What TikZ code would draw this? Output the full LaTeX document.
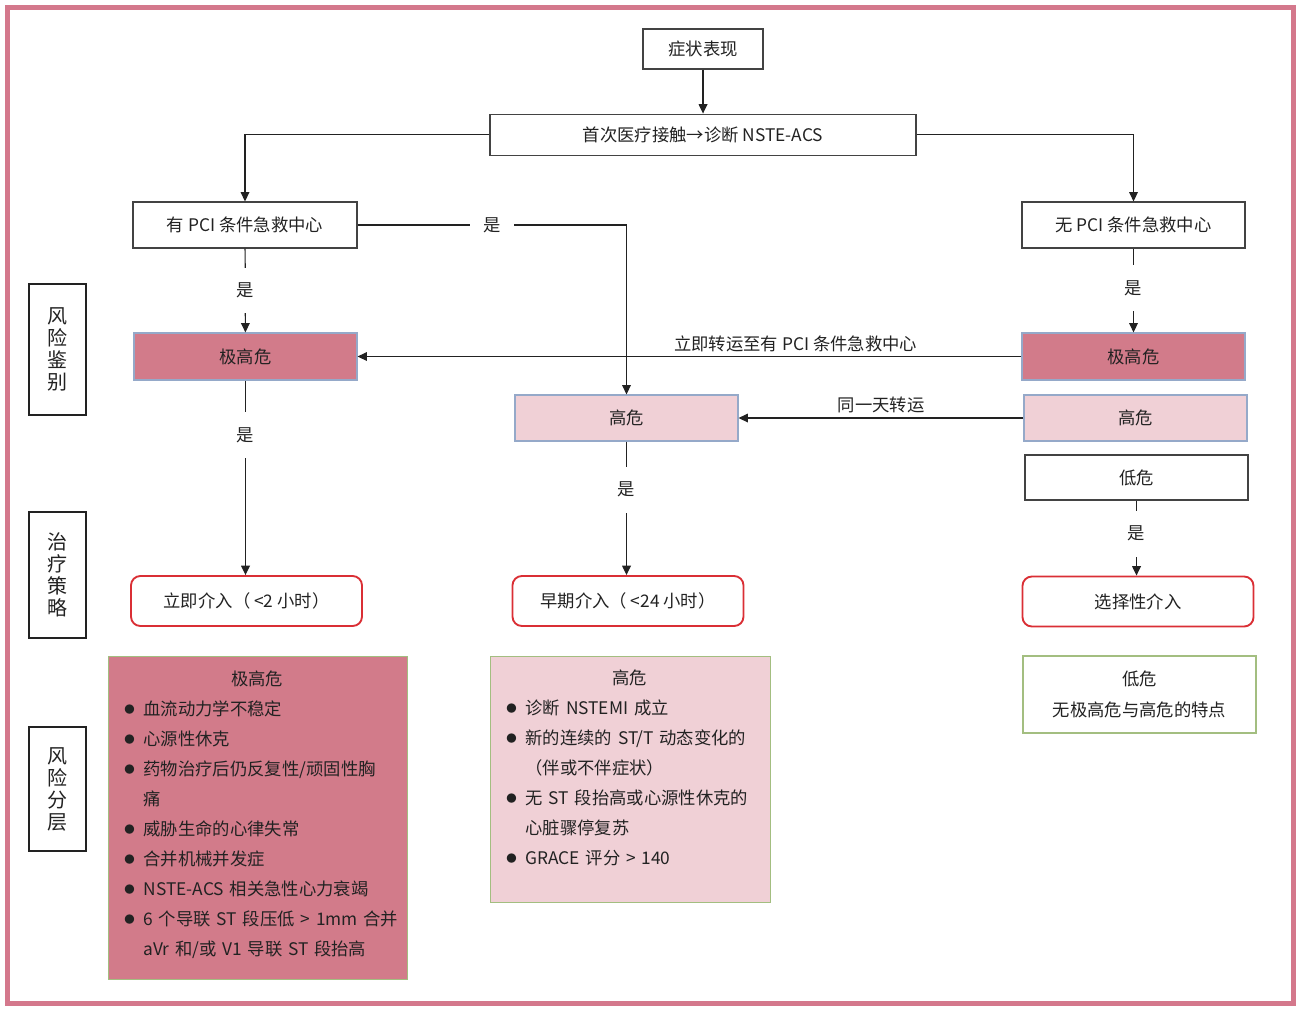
\documentclass[tikz,border=0pt]{standalone}
\usepackage{fontspec}
\setmainfont{Noto Sans CJK SC}
\usepackage{tikz}
\usetikzlibrary{arrows.meta, positioning}
\definecolor{framepink}{HTML}{D4788C}
\definecolor{vhigh}{HTML}{D27B8A}
\definecolor{high}{HTML}{F0D0D6}
\definecolor{edgeblue}{HTML}{95A9C9}
\definecolor{listgreen}{HTML}{A3BE80}
\definecolor{strat}{HTML}{DA2F35}
\definecolor{ink}{HTML}{222222}
\newcommand{\flowfont}{\fontsize{13pt}{16pt}\selectfont}
\newcommand{\riskitem}[1]{\mbox{\makebox[14.5pt][l]{\raisebox{0.12em}{\scalebox{0.6}{●}}}#1}}
\newcommand{\riskcont}[1]{\mbox{\hspace*{14.5pt}#1}}

\begin{document}
\begin{tikzpicture}[
  x=0.75pt, y=-0.75pt,
  every node/.style={text=ink, font=\flowfont},
  plainbox/.style={rectangle, draw=ink!85, line width=0.85pt, fill=white, minimum width=167.25pt, minimum height=34.5pt, inner sep=2pt},
  vhighbox/.style={plainbox, draw=edgeblue, fill=vhigh, minimum height=35.25pt},
  highbox/.style={plainbox, draw=edgeblue, fill=high},
  treatbox/.style={rectangle, rounded corners=7pt, draw=strat, line width=1.4pt, fill=white, minimum width=173.25pt, minimum height=37.5pt},
  listbox/.style={rectangle, draw=listgreen, line width=0.9pt},
  listtext/.style={anchor=north west, inner sep=0pt, align=left, font=\fontsize{13pt}{22.5pt}\selectfont},
  sidebox/.style={rectangle, draw=ink, line width=0.9pt, fill=white, minimum width=42.75pt, align=center, font=\fontsize{15pt}{16.5pt}\selectfont},
  arrow/.style={-{Triangle[length=7pt, width=6.5pt]}, line width=0.9pt, draw=ink},
  yes/.style={fill=white, inner xsep=10pt, inner ysep=11.5pt},
]
\useasboundingbox (0,0) rectangle (1298,1008);
\draw[draw=framepink, line width=3.75pt] (7.5,7.5) rectangle (1293.5,1003.5);

% side labels
\node[sidebox, minimum height=98.25pt] (identify) at (57.5,349.5) {风\\险\\鉴\\别};
\node[sidebox, minimum height=94.5pt]  (strategy) at (57.5,575)   {治\\疗\\策\\略};
\node[sidebox, minimum height=93pt]    (stratify) at (57.5,789)   {风\\险\\分\\层};

% flow
\node[plainbox, minimum width=90pt, minimum height=30pt] (symptom) at (703,49) {症状表现};
\node[plainbox, minimum width=319.5pt, minimum height=30.75pt] (contact) [below=33pt of symptom] {首次医疗接触→诊断 NSTE-ACS};
\node[plainbox, minimum width=168pt] (pcicentre)   at (245,225)    {有 PCI 条件急救中心};
\node[plainbox]                      (nopcicentre) at (1133.5,225) {无 PCI 条件急救中心};
\node[vhighbox] (vhighpci)   at (245.5,356.5)  {极高危};
\node[vhighbox] (vhighnopci) at (1133.5,356.5) {极高危};
\node[highbox]  (highpci)    at (626.5,418)    {高危};
\node[highbox]  (highnopci)  at (1135.5,418)   {高危};
\node[plainbox, minimum height=33.75pt] (lownopci) at (1136.5,477.5) {低危};

\node[treatbox] (urgent)   at (246.5,601)  {立即介入（ <2 小时）};
\node[treatbox] (early)    at (628,601)    {早期介入（ <24 小时）};
\node[treatbox] (elective) at (1138,601.5) {选择性介入};

\draw[arrow] (symptom) -- (contact);
\draw[arrow] (contact.west) -| (pcicentre.north);
\draw[arrow] (contact.east) -| (nopcicentre.north);
\draw[arrow] (pcicentre.east) -| node[yes, pos=0.25] {是} (highpci.north);
\draw[arrow] (pcicentre) -- node[yes] {是} (vhighpci);
\draw[arrow] (nopcicentre) -- node[yes, pos=0.47] {是} (vhighnopci);
\draw[arrow] (vhighnopci.west) -- node[above, pos=0.34] {立即转运至有 PCI 条件急救中心} (vhighpci.east);
\draw[arrow] (highnopci.west) -- node[above] {同一天转运} (highpci.east);
\draw[arrow] (vhighpci.south) -- node[yes, pos=0.28] {是} (vhighpci.south |- urgent.north);
\draw[arrow] (highpci.south) -- node[yes, pos=0.36] {是} (highpci.south |- early.north);
\draw[arrow] (lownopci.south) -- node[yes, pos=0.44] {是} (lownopci.south |- elective.north);

% risk stratification
\node[listbox, fill=vhigh, minimum width=224.25pt, minimum height=242.25pt, anchor=north west] (vhighlistbox) at (108,656) {};
\node[listtext, text width=199.5pt] (vhighlist) at ([xshift=12pt, yshift=-11.25pt]vhighlistbox.north west) {%
  \makebox[\linewidth]{极高危}\\
  \riskitem{血流动力学不稳定}\\
  \riskitem{心源性休克}\\
  \riskitem{药物治疗后仍反复性/顽固性胸}\\
  \riskcont{痛}\\
  \riskitem{威胁生命的心律失常}\\
  \riskitem{合并机械并发症}\\
  \riskitem{NSTE-ACS 相关急性心力衰竭}\\
  \riskitem{6 个导联 ST 段压低 > 1mm 合并}\\
  \riskcont{aVr 和/或 V1 导联 ST 段抬高}};

\node[listbox, fill=high, minimum width=210pt, minimum height=184.5pt, anchor=north west] (highlistbox) at (490,656) {};
\node[listtext, text width=185.25pt] (highlist) at ([xshift=12pt, yshift=-10.5pt]highlistbox.north west) {%
  \makebox[\linewidth]{高危}\\
  \riskitem{诊断 NSTEMI 成立}\\
  \riskitem{新的连续的 ST/T 动态变化的}\\
  \riskcont{（伴或不伴症状）}\\
  \riskitem{无 ST 段抬高或心源性休克的}\\
  \riskcont{心脏骤停复苏}\\
  \riskitem{GRACE 评分 > 140}};

\node[listbox, fill=white, minimum width=174.75pt, minimum height=57.75pt, align=center, font=\fontsize{13pt}{23pt}\selectfont] (lowlist) at (1139.5,694.5) {低危\\无极高危与高危的特点};
\end{tikzpicture}
\end{document}
